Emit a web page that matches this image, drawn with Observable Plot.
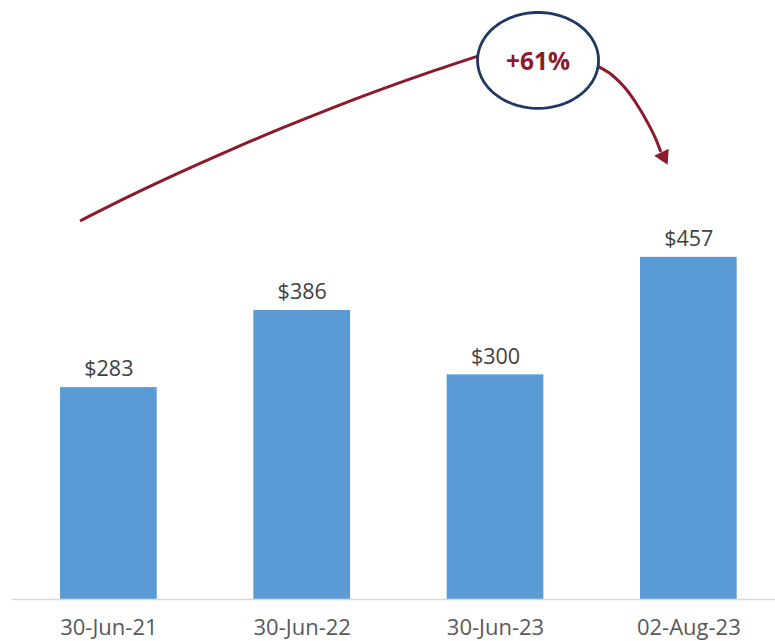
<!DOCTYPE html>
<html>
<head>
<meta charset="utf-8">
<script src="https://cdn.jsdelivr.net/npm/d3@7"></script>
<script src="https://cdn.jsdelivr.net/npm/@observablehq/plot@0.6"></script>
<style>
  html, body { margin: 0; padding: 0; background: #fff; overflow: hidden; }
  #chart { width: 775px; height: 641px; }
</style>
</head>
<body>
<div id="chart"></div>
<script>
// Categories and values
const dates = ["30-Jun-21", "30-Jun-22", "30-Jun-23", "02-Aug-23"];
const values = [283, 386, 300, 457];
const valueLabels = ["$283", "$386", "$300", "$457"];
const changeLabel = "+61%";

// Annotation paths (data units: x = category index, y = value)
const trendX = [-0.143, 0.112, 0.371, 0.630, 0.888, 1.147, 1.405, 1.664, 1.913];
const trendY = [506.4, 539.3, 570.7, 600.5, 628.8, 655.7, 680.9, 704.6, 726.0];
const arrowX = [2.535, 2.604, 2.673, 2.734, 2.785, 2.828, 2.853];
const arrowY = [711.3, 700.2, 682.4, 660.1, 637.8, 615.6, 599.3];
const arrowTip = [{x: 2.869, y: 591.7}];
const bubble = {x: 2.220, y: 720, rx: 0.313, ry: 64};

const bars = dates.map((d, i) => ({i, date: d, value: values[i], label: valueLabels[i]}));
const trend = trendX.map((x, k) => ({x, y: trendY[k]}));
const arrow = arrowX.map((x, k) => ({x, y: arrowY[k]}));
const ellipse = d3.range(0, 361, 4).map(a => {
  const t = a * Math.PI / 180;
  return {x: bubble.x + bubble.rx * Math.cos(t), y: bubble.y + bubble.ry * Math.sin(t)};
});

const red = "#8b1a2a";

const chart = Plot.plot({
  width: 775,
  height: 641,
  marginLeft: 11.7,
  marginRight: -10,
  marginTop: 0,
  marginBottom: 42,
  style: {fontFamily: "'Open Sans', sans-serif", fontSize: "21px", color: "#595959", background: "#fff", overflow: "visible"},
  x: {domain: [-0.5, 3.5], axis: null},
  y: {domain: [0, 800], axis: null},
  marks: [
    Plot.rectY(bars, {x1: d => d.i - 0.25, x2: d => d.i + 0.25, y: "value", fill: "#5b9bd5"}),
    Plot.ruleY([0], {stroke: "#d9d9d9", strokeWidth: 1.5}),
    Plot.axisX({ticks: [0, 1, 2, 3], tickFormat: d => dates[d], tickSize: 0, tickPadding: 20, fontSize: 22, fill: "#595959"}),
    Plot.text(bars, {x: "i", y: "value", text: "label", dy: -18, lineAnchor: "middle", fill: "#404040", fontSize: 21.5}),
    Plot.line(trend, {x: "x", y: "y", stroke: red, strokeWidth: 3, curve: "monotone-x"}),
    Plot.line(arrow, {x: "x", y: "y", stroke: red, strokeWidth: 3, curve: "monotone-x"}),
    Plot.dot(arrowTip, {x: "x", y: "y", symbol: "triangle", r: 6, fill: red, stroke: "none", rotate: 154}),
    Plot.line(ellipse, {x: "x", y: "y", stroke: "#1f3864", strokeWidth: 2.8, fill: "#fff", curve: "linear-closed"}),
    Plot.text([bubble], {x: "x", y: "y", text: () => changeLabel, fill: red, fontWeight: "bold", fontSize: 24.5, dy: 2})
  ]
});
document.getElementById("chart").appendChild(chart);
</script>
</body>
</html>
